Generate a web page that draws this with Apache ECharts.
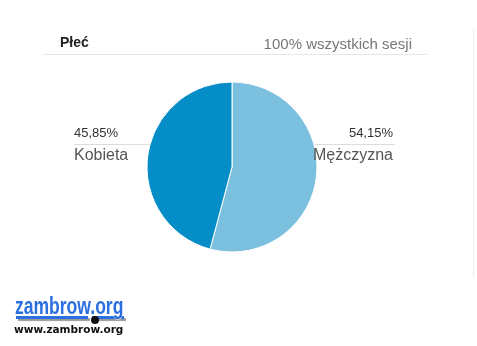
<!DOCTYPE html>
<html>
<head>
<meta charset="utf-8">
<script src="https://cdn.jsdelivr.net/npm/echarts@6/dist/echarts.min.js"></script>
<style>html,body{margin:0;padding:0;background:#fff;}#c{width:477px;height:346px;}</style>
</head>
<body>
<div id="c"></div>
<script>
var categories = ['Mężczyzna', 'Kobieta'];
var values = [54.15, 45.85];
var colors = ['#7cc0e0', '#058dc7'];
var titleText = 'Płeć';
var subtitleText = '100% wszystkich sesji';
var logoText = 'zambrow.org';
var logoUrl = 'www.zambrow.org';

var FONT = '"Liberation Sans", Arial, sans-serif';
var chart = echarts.init(document.getElementById('c'), null, {renderer: 'canvas'});

function fmt(v) { return v.toFixed(2).replace('.', ',') + '%'; }

var data = categories.map(function (c, i) {
  return { name: c, value: values[i], itemStyle: { color: colors[i] } };
});

var option = {
  animation: false,
  backgroundColor: '#fff',
  series: [{
    type: 'pie',
    center: [232, 167],
    radius: [0, 85],
    startAngle: 90,
    clockwise: true,
    data: data,
    itemStyle: { borderColor: '#fff', borderWidth: 1 },
    emphasis: { disabled: true },
    label: {
      show: true,
      position: 'outside',
      formatter: function (p) { return '{p|' + fmt(p.value) + '}\n{n|' + p.name + '}'; },
      rich: {
        p: { fontFamily: FONT, fontSize: 13, color: '#333', lineHeight: 20 },
        n: { fontFamily: FONT, fontSize: 16, color: '#555', lineHeight: 25 }
      }
    },
    labelLine: { show: true, lineStyle: { color: '#dddddd', width: 1 } },
    labelLayout: function (params) {
      if (params.dataIndex === 1) {
        return { x: 74, y: 123, align: 'left', verticalAlign: 'top',
          labelLinePoints: [[160, 144.5], [117, 144.5], [74, 144.5]] };
      }
      return { x: 393, y: 123, align: 'right', verticalAlign: 'top',
        labelLinePoints: [[305, 144.5], [349, 144.5], [395, 144.5]] };
    }
  }],
  graphic: [
    { type: 'text', style: { x: 60, y: 43, text: titleText, font: 'bold 14px ' + FONT, fill: '#222', textVerticalAlign: 'middle' } },
    { type: 'text', style: { x: 412, y: 45, text: subtitleText, font: '15px ' + FONT, fill: '#777', textAlign: 'right', textVerticalAlign: 'middle' } },
    { type: 'line', shape: { x1: 43, y1: 54.5, x2: 427, y2: 54.5 }, style: { stroke: '#e6e6e6', lineWidth: 1 } },
    { type: 'line', shape: { x1: 473.5, y1: 30, x2: 473.5, y2: 278 }, style: { stroke: '#eeeeee', lineWidth: 1 } },
    { type: 'rect', shape: { x: 16, y: 316, width: 72, height: 3 }, style: { fill: '#2b6fe0', shadowColor: 'rgba(0,0,0,0.4)', shadowOffsetX: 2, shadowOffsetY: 2, shadowBlur: 1 } },
    { type: 'rect', shape: { x: 92, y: 316, width: 32, height: 3 }, style: { fill: '#2b6fe0', shadowColor: 'rgba(0,0,0,0.4)', shadowOffsetX: 2, shadowOffsetY: 2, shadowBlur: 1 } },
    { type: 'text', x: 15, y: 307, scaleX: 0.73, scaleY: 1, style: { x: 0, y: 0, text: logoText, font: 'bold 24px ' + FONT, fill: '#2b6fe0', stroke: '#ffffff', lineWidth: 1, textVerticalAlign: 'middle', shadowColor: 'rgba(0,0,0,0.45)', shadowOffsetX: 2, shadowOffsetY: 2, shadowBlur: 1 } },
    { type: 'circle', shape: { cx: 95, cy: 320, r: 4 }, style: { fill: '#111' } },
    { type: 'text', style: { x: 14, y: 330, text: logoUrl, font: 'bold 10.5px "DejaVu Sans", Verdana, sans-serif', fill: '#111', textVerticalAlign: 'middle' } }
  ]
};
chart.setOption(option);
</script>
</body>
</html>
